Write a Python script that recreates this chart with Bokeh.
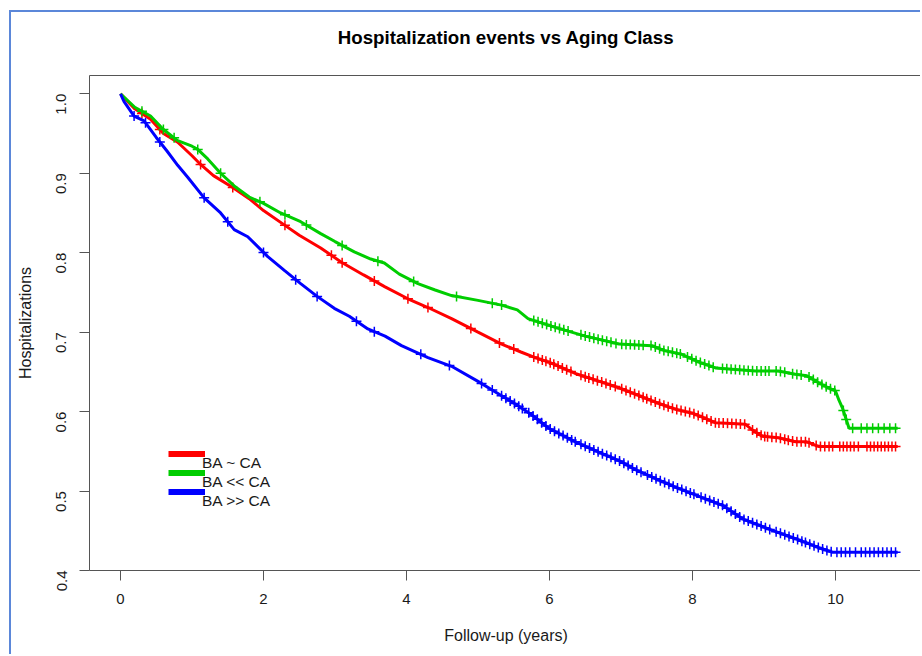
import math
import numpy as np
from bokeh.plotting import figure
from bokeh.models import FixedTicker, LinearAxis, Legend, LegendItem, Range1d
from bokeh.embed import file_html
from bokeh.resources import INLINE

# ---------------- data ----------------
title_text = "Hospitalization events vs Aging Class"
x_label = "Follow-up (years)"
y_label = "Hospitalizations"
group_labels = ["BA ~ CA", "BA << CA", "BA >> CA"]
group_colors = ["#FF0000", "#00CD00", "#0000FF"]

x_ticks = [0, 2, 4, 6, 8, 10]
x_tick_labels = ["0", "2", "4", "6", "8", "10"]
y_ticks = [0.4, 0.5, 0.6, 0.7, 0.8, 0.9, 1.0]
y_tick_labels = ["0.4", "0.5", "0.6", "0.7", "0.8", "0.9", "1.0"]

# BA ~ CA (red)
red_t = [0, 0.2, 0.42, 0.6, 0.8, 1.0, 1.12, 1.3, 1.57, 1.8, 2.0, 2.29, 2.5, 2.8,
         3.09, 3.4, 3.7, 4.02, 4.3, 4.63, 5.0, 5.33, 5.6, 5.8, 6.0, 6.36, 6.7,
         6.97, 7.2, 7.39, 7.6, 7.76, 8.0, 8.32, 8.55, 8.74, 8.85, 8.98, 9.2,
         9.44, 9.6, 9.77, 10.87]
red_s = [1.0, 0.981, 0.968, 0.950, 0.939, 0.922, 0.911, 0.897, 0.882, 0.868, 0.853,
         0.835, 0.822, 0.806, 0.788, 0.772, 0.757, 0.742, 0.731, 0.717, 0.700, 0.685,
         0.675, 0.668, 0.662, 0.648, 0.638, 0.630, 0.622, 0.615, 0.608, 0.603, 0.598,
         0.586, 0.585, 0.584, 0.576, 0.569, 0.567, 0.562, 0.562, 0.556, 0.556]
red_cens = [0.3, 0.55, 1.12, 1.57, 2.3, 2.95, 3.1, 3.55, 4.02, 4.3, 4.9, 5.3, 5.5,
            5.78, 5.84, 5.90, 5.95, 6.01, 6.06, 6.12, 6.18, 6.24, 6.30,
            6.44, 6.50, 6.55, 6.61, 6.67, 6.73, 6.79, 6.85, 6.92,
            7.01, 7.07, 7.13, 7.19, 7.25, 7.31, 7.36,
            7.42, 7.48, 7.54, 7.60, 7.66, 7.72,
            7.78, 7.84, 7.90, 7.96, 8.02, 8.08,
            8.14, 8.20, 8.26, 8.32,
            8.37, 8.43, 8.49, 8.55, 8.61, 8.67, 8.73,
            8.84, 8.90, 8.96, 9.01,
            9.05, 9.11, 9.17, 9.23, 9.29, 9.34,
            9.40, 9.46, 9.52, 9.58, 9.63,
            9.73, 9.79, 9.85, 9.91, 9.96,
            10.06, 10.11, 10.16, 10.21, 10.26, 10.32,
            10.44, 10.49, 10.54, 10.59, 10.64, 10.69, 10.74, 10.79, 10.84]

# BA << CA (green)
green_t = [0, 0.2, 0.42, 0.6, 0.8, 1.0, 1.08, 1.22, 1.4, 1.59, 1.8, 2.0, 2.24, 2.52,
           2.8, 3.0, 3.27, 3.5, 3.69, 3.9, 4.16, 4.4, 4.63, 5.0, 5.33, 5.55, 5.70,
           6.08, 6.50, 6.97, 7.43, 7.6, 7.85, 8.1, 8.32, 8.88, 9.2, 9.44, 9.6, 9.77,
           9.9, 10.0, 10.05, 10.10, 10.19, 10.87]
green_s = [1.0, 0.983, 0.972, 0.955, 0.941, 0.934, 0.930, 0.918, 0.900, 0.884, 0.870,
           0.862, 0.850, 0.839, 0.824, 0.814, 0.801, 0.792, 0.787, 0.773, 0.761, 0.753,
           0.746, 0.740, 0.734, 0.728, 0.717, 0.706, 0.695, 0.685, 0.683, 0.677, 0.672,
           0.662, 0.655, 0.651, 0.651, 0.647, 0.645, 0.636, 0.630, 0.626, 0.614, 0.604,
           0.579, 0.579]
green_cens = [0.3, 0.6, 0.75, 1.08, 1.4, 1.95, 2.3, 2.6, 3.1, 3.6, 4.1, 4.7, 5.2, 5.33,
              5.78, 5.84, 5.90, 5.96, 6.02, 6.08, 6.14, 6.20, 6.26,
              6.44, 6.50, 6.56, 6.62, 6.68, 6.74, 6.80, 6.86, 6.93,
              7.01, 7.07, 7.13, 7.19, 7.25, 7.31,
              7.42, 7.48, 7.54, 7.60, 7.66, 7.72, 7.78, 7.83,
              7.93, 7.99, 8.05, 8.11, 8.17, 8.23, 8.29,
              8.42, 8.48, 8.54, 8.60, 8.66, 8.72, 8.78, 8.84, 8.90, 8.96, 9.02, 9.07,
              9.17, 9.23, 9.29,
              9.40, 9.46, 9.52,
              9.63, 9.69, 9.75, 9.81,
              9.87, 9.93, 9.99,
              10.11, 10.15,
              10.24, 10.36, 10.44, 10.52, 10.60, 10.68, 10.76, 10.84]

# BA >> CA (blue)
blue_t = [0, 0.05, 0.19, 0.33, 0.5, 0.65, 0.8, 0.94, 1.17, 1.4, 1.59, 1.78, 2.06, 2.3,
          2.52, 2.75, 2.99, 3.2, 3.46, 3.7, 3.93, 4.3, 4.63, 5.0, 5.33, 5.55, 5.75,
          5.99, 6.36, 6.69, 7.0, 7.20, 7.5, 7.76, 8.1, 8.42, 8.70, 9.07, 9.44, 9.82,
          9.96, 10.87]
blue_s = [1.0, 0.990, 0.972, 0.966, 0.945, 0.928, 0.910, 0.895, 0.869, 0.850, 0.829,
          0.820, 0.795, 0.777, 0.761, 0.745, 0.730, 0.720, 0.704, 0.695, 0.683, 0.668,
          0.657, 0.638, 0.620, 0.608, 0.596, 0.579, 0.562, 0.549, 0.537, 0.527, 0.515,
          0.505, 0.493, 0.482, 0.465, 0.452, 0.440, 0.427, 0.423, 0.423]
blue_cens = [0.19, 0.35, 0.55, 1.17, 1.5, 2.0, 2.45, 2.75, 3.3, 3.55, 4.2, 4.6, 5.05, 5.2,
             5.33, 5.39, 5.45, 5.51, 5.57, 5.62,
             5.71, 5.77, 5.83, 5.89, 5.95, 6.01, 6.07, 6.13, 6.19, 6.25, 6.31, 6.36,
             6.44, 6.50, 6.56, 6.62, 6.68, 6.74, 6.80, 6.86, 6.92, 6.98, 7.04, 7.10, 7.16,
             7.22, 7.28,
             7.37, 7.43, 7.49, 7.55, 7.61, 7.67, 7.73, 7.79, 7.85, 7.91, 7.97, 8.02,
             8.12, 8.18, 8.24, 8.30, 8.36, 8.42, 8.48, 8.54, 8.60, 8.66, 8.72, 8.78,
             8.84, 8.90, 8.96, 9.02, 9.08,
             9.17, 9.23, 9.29, 9.35, 9.41, 9.47, 9.53, 9.58,
             9.64, 9.70, 9.76, 9.82, 9.88, 9.94,
             10.02, 10.08, 10.14, 10.20, 10.28, 10.36, 10.42, 10.48, 10.54, 10.60,
             10.66, 10.72, 10.78, 10.84]

series = [(red_t, red_s, red_cens), (green_t, green_s, green_cens), (blue_t, blue_s, blue_cens)]

# ---------------- figure ----------------
FONT = "Liberation Sans"
AX = "#555555"
TXT = "#1a1a1a"

p = figure(width=911, height=644, output_backend="svg", toolbar_location=None,
           x_range=Range1d(-0.4336, 11.217), y_range=Range1d(0.4, 1.023),
           min_border_left=78, min_border_right=0, min_border_top=63, min_border_bottom=86,
           title=title_text,
           styles={"border-left": "2px solid #5b87d9", "border-top": "2px solid #5b87d9",
                   "margin-left": "9px", "margin-top": "10px"})

p.title.align = "center"
p.title.text_font = FONT
p.title.text_font_size = "18.7px"
p.title.text_font_style = "bold"
p.title.text_color = "#000000"
p.title.standoff = 24

p.outline_line_color = None
p.xgrid.visible = False
p.ygrid.visible = False
p.background_fill_color = "white"
p.border_fill_color = "white"

for ax in (p.xaxis[0], p.yaxis[0]):
    ax.axis_line_color = AX
    ax.axis_line_width = 1
    ax.major_tick_line_color = AX
    ax.major_tick_out = 10
    ax.major_tick_in = 0
    ax.minor_tick_line_color = None
    ax.major_label_text_font = FONT
    ax.major_label_text_font_size = "15px"
    ax.major_label_text_color = TXT
    ax.axis_label_text_font = FONT
    ax.axis_label_text_font_size = "16px"
    ax.axis_label_text_font_style = "normal"
    ax.axis_label_text_color = TXT

p.xaxis[0].ticker = FixedTicker(ticks=x_ticks)
p.xaxis[0].major_label_overrides = {t: l for t, l in zip(x_ticks, x_tick_labels)}
p.xaxis[0].major_label_standoff = 13
p.xaxis[0].axis_label = x_label
p.xaxis[0].axis_label_standoff = 20

p.yaxis[0].ticker = FixedTicker(ticks=y_ticks)
p.yaxis[0].major_label_overrides = {t: l for t, l in zip(y_ticks, y_tick_labels)}
p.yaxis[0].major_label_orientation = math.pi / 2
p.yaxis[0].major_label_standoff = 18
p.yaxis[0].axis_label = y_label
p.yaxis[0].axis_label_standoff = 15

# top border line of the box; a blank axis label spaces the title away from the frame
top_axis = LinearAxis(ticker=FixedTicker(ticks=[]), axis_line_color=AX,
                      major_tick_line_color=None, minor_tick_line_color=None,
                      major_label_text_font_size="0px",
                      axis_label=" ", axis_label_text_font_size="1px",
                      axis_label_standoff=12)
p.add_layout(top_axis, "above")

# curves and censor marks
for (t, s, c), col in zip(series, group_colors):
    p.line(t, s, line_color=col, line_width=3)
    cy = np.interp(c, t, s)
    p.scatter(c, cy, marker="cross", size=10, line_color=col, line_width=1.5)

# legend: thick keys (one legend) and labels set slightly lower (second legend),
# as in R's legend where the text sits just below the key line
key_items, text_items = [], []
for lab, col in zip(group_labels, group_colors):
    rk = p.line(x=[np.nan, np.nan], y=[np.nan, np.nan], line_color=col, line_width=6)
    key_items.append(LegendItem(label=" ", renderers=[rk]))
    rt = p.line(x=[np.nan, np.nan], y=[np.nan, np.nan], line_color=col, line_alpha=0)
    text_items.append(LegendItem(label=lab, renderers=[rt]))

common = dict(orientation="vertical", border_line_color=None, background_fill_alpha=0,
              padding=0, margin=0, spacing=0, glyph_height=19, label_height=19,
              label_standoff=0, label_text_font=FONT, label_text_font_size="15.5px",
              label_text_color=TXT)
key_legend = Legend(items=key_items, location=(79, 69), glyph_width=37, **common)
text_legend = Legend(items=text_items, location=(79, 60), glyph_width=34, **common)
p.add_layout(key_legend)
p.add_layout(text_legend)

open("out.html", "w").write(file_html(p, INLINE))
